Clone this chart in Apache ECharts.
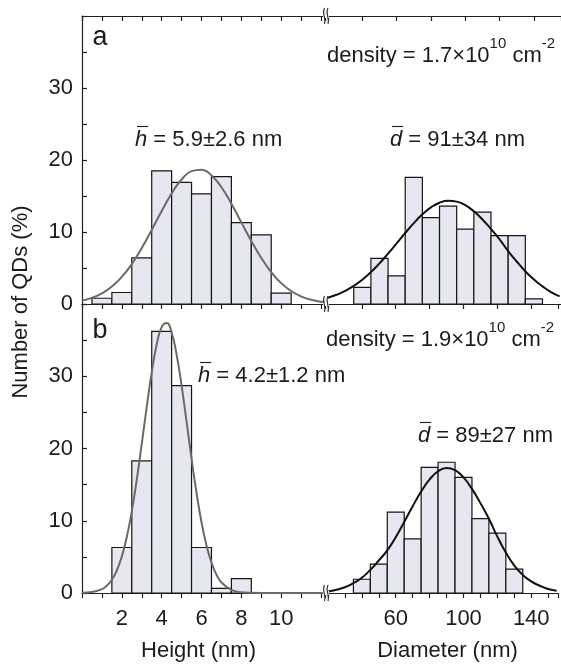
<!DOCTYPE html>
<html>
<head>
<meta charset="utf-8">
<script src="https://cdn.jsdelivr.net/npm/echarts@6/dist/echarts.min.js"></script>
<style>
html,body{margin:0;padding:0;background:#fff;}
#c{width:561px;height:665px;}
</style>
</head>
<body>
<div id="c"></div>
<script>
// ---------------- DATA ----------------
// Panel a – height histogram (bin centres, nm) and share of QDs (%)
const heightBinsA = [1, 2, 3, 4, 5, 6, 7, 8, 9, 10];
const heightPctA  = [0.8, 1.6, 6.4, 18.5, 16.9, 15.3, 17.7, 11.3, 9.6, 1.5];
// Panel a – diameter histogram
const diamBinsA = [40, 50, 60, 70, 80, 90, 100, 110, 120, 130, 140];
const diamPctA  = [2.3, 6.35, 3.9, 17.6, 12.0, 13.6, 10.4, 12.75, 9.5, 9.5, 0.7];
// Panel b – height histogram
const heightBinsB = [2, 3, 4, 5, 6, 7, 8];
const heightPctB  = [6.3, 18.3, 36.2, 28.7, 6.3, 0.65, 2.0];
// Panel b – diameter histogram
const diamBinsB = [40, 50, 60, 70, 80, 90, 100, 110, 120, 130];
const diamPctB  = [1.9, 4.0, 11.2, 7.5, 17.4, 18.1, 16.0, 10.3, 8.3, 3.3];
// bin widths (nm)
const heightBinWidth = 1;
const diamBinWidth = 10;

// Fitted curves
const heightFitXA = [0,0.5,1,1.5,2,2.5,3,3.5,4,4.5,5,5.5,6,6.5,7,7.5,8,8.5,9,9.5,10,10.5,11,11.5,12,12.2];
const heightFitYA = [0.46,0.85,1.47,2.42,3.76,5.55,7.77,10.29,12.92,15.35,17.29,18.45,18.66,17.86,16.21,13.93,11.34,8.75,6.40,4.43,2.90,1.80,1.06,0.59,0.31,0.24];
const diamFitXA = [20,25,30,35,40,45,50,55,60,65,70,75,80,85,90,95,100,105,110,115,120,125,130,135,140,145,150,155];
const diamFitYA = [0.87,1.28,1.82,2.51,3.38,4.43,5.64,6.99,8.41,9.86,11.23,12.45,13.42,14.07,14.34,14.22,13.72,12.87,11.74,10.42,8.99,7.35,5.9,4.55,3.4,2.45,1.65,1.05];
const heightFitXB = [0,0.5,1,1.25,1.5,1.75,2,2.25,2.5,2.75,3,3.25,3.5,3.75,4,4.25,4.5,4.75,5,5.25,5.5,5.75,6,6.25,6.5,6.75,7,7.5,8,8.5,9,10,11,12.2];
const heightFitYB = [0.03,0.13,0.54,1.03,1.84,3.13,5.06,7.77,11.33,15.69,20.63,25.76,30.54,34.40,36.79,37.36,36.03,33.0,28.71,23.71,18.6,13.86,9.8,6.59,4.2,2.54,1.46,0.42,0.10,0.02,0,0,0,0];
const diamFitXB = [20,25,30,35,40,45,50,55,60,65,70,75,80,85,90,95,100,105,110,115,120,125,130,135,140,145,150,155];
const diamFitYB = [0.2,0.45,0.8,1.35,2.1,3.2,4.5,5.9,7.72,9.84,12.01,14.04,15.72,16.85,17.3,17.0,16.0,14.41,12.44,10.27,7.8,5.6,3.8,2.5,1.6,1.0,0.55,0.3];

// Axis ranges / tick labels
const heightRange = [0, 12.2];
const diamRange = [20, 155.8];
const yRange = [0, 40];
const heightTickLabels = [2, 4, 6, 8, 10];
const diamTickLabels = [60, 100, 140];
const yTickLabels = [0, 10, 20, 30];

// Texts
const yTitle = 'Number of QDs (%)';
const heightTitle = 'Height (nm)';
const diamTitle = 'Diameter (nm)';

// ---------------- CHART ----------------
const FONT = '"Liberation Sans", Arial, Helvetica, sans-serif';
const TXT = '#1c1c1c';
const AXC = '#222';
const FS = 22;

const chart = echarts.init(document.getElementById('c'), null, {renderer: 'canvas'});

function pairs(xs, ys) { return xs.map((x, i) => [x, ys[i]]); }

function barRenderer(binWidth) {
  return function (params, api) {
    const x = api.value(0), y = api.value(1);
    const p0 = api.coord([x - binWidth / 2, y]);
    const p1 = api.coord([x + binWidth / 2, 0]);
    return {
      type: 'rect',
      shape: {x: p0[0], y: p0[1], width: p1[0] - p0[0], height: p1[1] - p0[1]},
      style: {fill: '#e6e7f0', stroke: '#151515', lineWidth: 1.2}
    };
  };
}

const grids = [
  {left: 82, top: 16, width: 243, height: 288},   // a - height
  {left: 328, top: 16, width: 233, height: 288},  // a - diameter
  {left: 82, top: 304, width: 243, height: 289},  // b - height
  {left: 328, top: 304, width: 233, height: 289}  // b - diameter
];

const lineStyle = {color: AXC, width: 1.2};

function xAxis(gridIndex, position, range, interval, tick, label, name, namePad) {
  const ax = {
    type: 'value', gridIndex, position, min: range[0], max: range[1],
    axisLine: {show: true, onZero: false, lineStyle},
    splitLine: {show: false},
    axisTick: {show: !!tick, inside: tick === 'in', length: 5, lineStyle},
    axisLabel: {show: false}
  };
  if (interval) ax.interval = interval;
  if (label) {
    ax.axisLabel = {
      show: true, margin: 15, color: TXT, fontSize: FS, fontFamily: FONT,
      formatter: v => (Math.abs(v - Math.round(v)) < 1e-6 && label.indexOf(Math.round(v)) >= 0) ? String(Math.round(v)) : ''
    };
  }
  if (name) {
    ax.name = name;
    ax.nameLocation = 'middle';
    ax.nameGap = 47;
    ax.nameTextStyle = {color: TXT, fontSize: FS, fontFamily: FONT, padding: namePad};
  }
  return ax;
}

function yAxis(gridIndex, shown) {
  return {
    type: 'value', gridIndex, min: yRange[0], max: yRange[1], interval: 10,
    show: shown,
    axisLine: {show: true, lineStyle},
    splitLine: {show: false},
    axisTick: {show: true, inside: true, length: 5, lineStyle},
    minorTick: {show: true, splitNumber: 2, length: 5, lineStyle},
    axisLabel: {
      show: true, margin: 9, color: TXT, fontSize: FS, fontFamily: FONT,
      formatter: v => yTickLabels.indexOf(v) >= 0 ? String(v) : ''
    }
  };
}

function breakMark(x, y) {
  const h = 8;
  return {
    type: 'group', children: [
      {type: 'rect', shape: {x: x - 1, y: y - 2, width: 6, height: 4}, style: {fill: '#fff'}, z: 100},
      {type: 'bezierCurve', shape: {x1: x + 0.5, y1: y - h, x2: x + 0.5, y2: y + h, cpx1: x - 2.5, cpy1: y - 2, cpx2: x + 2.5, cpy2: y + 2},
        style: {stroke: '#333', lineWidth: 1.2, fill: null}, z: 101},
      {type: 'bezierCurve', shape: {x1: x + 4, y1: y - h, x2: x + 4, y2: y + h, cpx1: x + 1, cpy1: y - 2, cpx2: x + 6, cpy2: y + 2},
        style: {stroke: '#333', lineWidth: 1.2, fill: null}, z: 101}
    ]
  };
}

const supRich = {
  n: {fontSize: FS, fontFamily: FONT, fill: TXT, lineHeight: 40, verticalAlign: 'middle'},
  s: {fontSize: 15, fontFamily: FONT, fill: TXT, lineHeight: 15, verticalAlign: 'top'}
};

function label(x, y, text, size) {
  return {type: 'text', x, y, z: 120,
    style: {text, fontSize: size || FS, fontFamily: FONT, fill: TXT, align: 'center', verticalAlign: 'middle', rich: supRich}};
}

// measure text width with the same font the canvas will use
const measureCtx = document.createElement('canvas').getContext('2d');
function textWidth(str, font) { measureCtx.font = font; return measureCtx.measureText(str).width; }

// italic symbol with an overline (mean value), followed by the rest of the text
function meanLabel(xLeft, y, sym, rest) {
  const w = textWidth(sym, 'italic ' + FS + 'px ' + FONT);
  return {
    type: 'group', z: 120, children: [
      {type: 'text', x: xLeft, y, style: {text: sym, fontSize: FS, fontFamily: FONT, fontStyle: 'italic', fill: TXT, align: 'left', verticalAlign: 'middle'}},
      {type: 'line', shape: {x1: xLeft + 2, y1: y - 13.5, x2: xLeft + w + 1, y2: y - 13.5}, style: {stroke: TXT, lineWidth: 1.1}},
      {type: 'text', x: xLeft + w, y, style: {text: rest, fontSize: FS, fontFamily: FONT, fill: TXT, align: 'left', verticalAlign: 'middle'}}
    ]
  };
}

const option = {
  backgroundColor: '#fff',
  animation: false,
  grid: grids,
  xAxis: [
    xAxis(0, 'bottom', heightRange, 1, null),
    xAxis(0, 'top', heightRange, 1, 'in'),
    xAxis(1, 'bottom', diamRange, 20, null),
    xAxis(1, 'top', diamRange, 20, 'in'),
    xAxis(2, 'bottom', heightRange, 1, 'out', heightTickLabels, heightTitle, [0, 10, 0, 0]),
    xAxis(2, 'top', heightRange, 1, 'in'),
    xAxis(3, 'bottom', diamRange, 10, 'out', diamTickLabels, diamTitle, [0, 0, 0, 9]),
    xAxis(3, 'top', diamRange, 20, 'in')
  ],
  yAxis: [yAxis(0, true), yAxis(1, false), yAxis(2, true), yAxis(3, false)],
  series: [
    {type: 'custom', xAxisIndex: 0, yAxisIndex: 0, renderItem: barRenderer(heightBinWidth), data: pairs(heightBinsA, heightPctA), encode: {x: 0, y: 1}, z: 2},
    {type: 'custom', xAxisIndex: 2, yAxisIndex: 1, renderItem: barRenderer(diamBinWidth), data: pairs(diamBinsA, diamPctA), encode: {x: 0, y: 1}, z: 2},
    {type: 'custom', xAxisIndex: 4, yAxisIndex: 2, renderItem: barRenderer(heightBinWidth), data: pairs(heightBinsB, heightPctB), encode: {x: 0, y: 1}, z: 2},
    {type: 'custom', xAxisIndex: 6, yAxisIndex: 3, renderItem: barRenderer(diamBinWidth), data: pairs(diamBinsB, diamPctB), encode: {x: 0, y: 1}, z: 2},
    {type: 'line', xAxisIndex: 0, yAxisIndex: 0, data: pairs(heightFitXA, heightFitYA), showSymbol: false, smooth: true, lineStyle: {color: '#6a6a6a', width: 2}, z: 5},
    {type: 'line', xAxisIndex: 2, yAxisIndex: 1, data: pairs(diamFitXA, diamFitYA), showSymbol: false, smooth: true, lineStyle: {color: '#111', width: 2}, z: 5},
    {type: 'line', xAxisIndex: 4, yAxisIndex: 2, data: pairs(heightFitXB, heightFitYB), showSymbol: false, smooth: true, lineStyle: {color: '#6a6a6a', width: 2}, z: 5},
    {type: 'line', xAxisIndex: 6, yAxisIndex: 3, data: pairs(diamFitXB, diamFitYB), showSymbol: false, smooth: true, lineStyle: {color: '#111', width: 2}, z: 5}
  ],
  graphic: [
    breakMark(324, 16), breakMark(324, 304), breakMark(324, 593),
    {type: 'text', x: 21, y: 302, rotation: Math.PI / 2, z: 120,
      style: {text: yTitle, fontSize: FS, fontFamily: FONT, fill: TXT, align: 'center', verticalAlign: 'middle'}},
    label(100, 38, 'a', 27),
    label(100, 331, 'b', 27),
    label(441, 56, '{n|density = 1.7×10}{s|10}{n| cm}{s|-2}'),
    label(440, 340, '{n|density = 1.9×10}{s|10}{n| cm}{s|-2}'),
    meanLabel(135, 140, 'h', ' = 5.9±2.6 nm'),
    meanLabel(390, 140, 'd', ' = 91±34 nm'),
    meanLabel(198, 376, 'h', ' = 4.2±1.2 nm'),
    meanLabel(418, 436, 'd', ' = 89±27 nm')
  ]
};

chart.setOption(option);
</script>
</body>
</html>
